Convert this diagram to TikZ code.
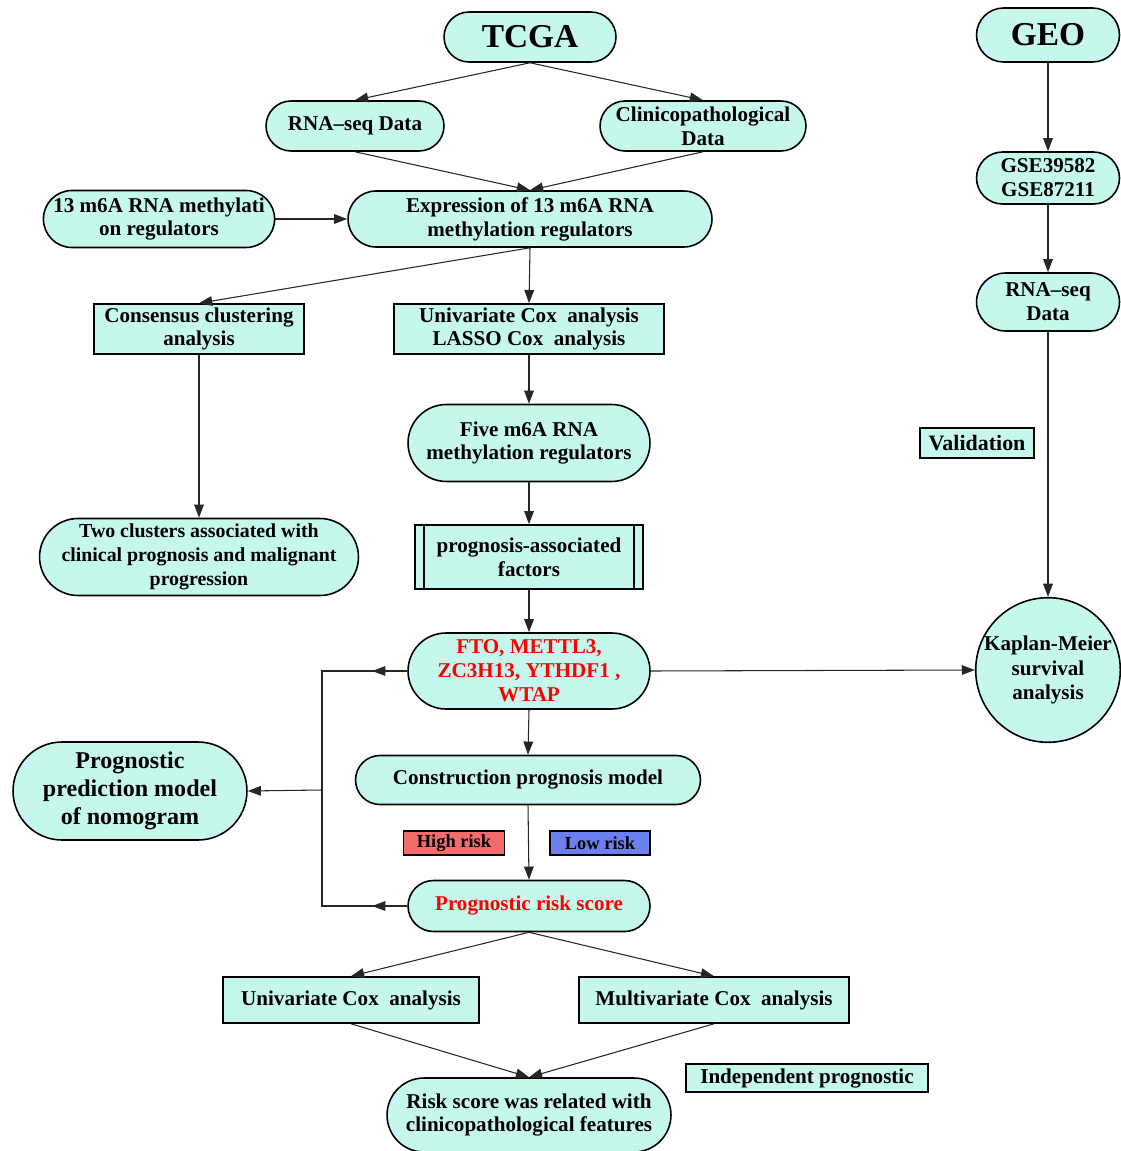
\documentclass[tikz,border=0pt]{standalone}
\usepackage{fontspec}
\setmainfont{Liberation Serif}
\usetikzlibrary{shapes.misc,shapes.geometric,arrows.meta}
\definecolor{boxfill}{RGB}{197,247,237}
\definecolor{hirisk}{RGB}{242,108,108}
\definecolor{lorisk}{RGB}{106,128,238}
\tikzset{
  term/.style={rounded rectangle, draw=black, line width=0.9pt, fill=boxfill, align=center, inner sep=0pt, font=\fontsize{12}{13.6}\selectfont\bfseries},
  proc/.style={rectangle, draw=black, line width=0.9pt, fill=boxfill, align=center, inner sep=0pt, font=\fontsize{12}{13.6}\selectfont\bfseries},
  conn/.style={draw=black!85, line width=0.6pt},
  arr/.style={conn, -{Triangle[length=7.5pt,width=5.5pt]}}
}
\begin{document}
\begin{tikzpicture}[x=0.02cm,y=-0.02cm]
\useasboundingbox (0,0) rectangle (1120,1151);
% TCGA branch
\node[term, minimum width=3.44cm, minimum height=1cm, font=\fontsize{19}{21}\selectfont\bfseries] (tcga) at (530,37) {TCGA};
\node[term, minimum width=3.56cm, minimum height=1cm] (rnaseq) at (355,126) {RNA--seq Data};
\node[term, minimum width=4.12cm, minimum height=1cm] (clin) at (703,126) {Clinicopathological\\Data};
\node[term, minimum width=4.56cm, minimum height=1.14cm] (regs) at (159,219) {13 m6A RNA methylati\\on regulators};
\node[term, minimum width=7.28cm, minimum height=1.12cm] (expr) at (530,219) {Expression of 13 m6A RNA\\methylation regulators};
\node[proc, minimum width=4.2cm, minimum height=1cm] (cons) at (199,329) {Consensus clustering\\analysis};
\node[proc, minimum width=5.4cm, minimum height=1cm] (lasso) at (529,329) {Univariate Cox~ analysis\\LASSO Cox~ analysis};
\node[term, minimum width=4.84cm, minimum height=1.54cm] (five) at (529,443) {Five m6A RNA\\methylation regulators};
\node[term, minimum width=6.38cm, minimum height=1.54cm, font=\fontsize{11.3}{13.6}\selectfont\bfseries] (clust) at (199,557) {Two clusters associated with\\clinical prognosis and malignant\\progression};
\node[proc, minimum width=4.56cm, minimum height=1.28cm] (pfac) at (529,557) {prognosis-associated\\factors};
\draw[line width=0.9pt] ([xshift=0.2cm]pfac.north west) -- ([xshift=0.2cm]pfac.south west);
\draw[line width=0.9pt] ([xshift=-0.2cm]pfac.north east) -- ([xshift=-0.2cm]pfac.south east);
\node[term, minimum width=4.84cm, minimum height=1.52cm, text=red] (genes) at (529,671) {FTO, METTL3,\\ZC3H13, YTHDF1 ,\\WTAP};
\node[term, minimum width=4.68cm, minimum height=1.96cm, font=\fontsize{13.7}{15.9}\selectfont\bfseries] (nomo) at (130,791) {Prognostic\\prediction model\\of nomogram};
\node[term, minimum width=6.9cm, minimum height=0.98cm] (model) at (528,780) {Construction prognosis model};
\node[proc, fill=hirisk, minimum width=2.02cm, minimum height=0.48cm, font=\fontsize{10.5}{12}\selectfont\bfseries] (high) at (454,843) {High risk};
\node[proc, fill=lorisk, minimum width=2cm, minimum height=0.48cm, font=\fontsize{10.5}{12}\selectfont\bfseries] (low) at (600,843) {Low risk};
\node[term, minimum width=4.84cm, minimum height=1.02cm, text=red] (score) at (529,906) {Prognostic risk score};
\node[proc, minimum width=5.12cm, minimum height=0.92cm] (unicox) at (351,1000) {Univariate Cox~ analysis};
\node[proc, minimum width=5.4cm, minimum height=0.92cm] (multicox) at (714,1000) {Multivariate Cox~ analysis};
\node[proc, minimum width=4.84cm, minimum height=0.56cm] (indep) at (807,1078) {Independent prognostic};
\node[term, minimum width=5.68cm, minimum height=1.48cm] (related) at (529,1115) {Risk score was related with\\clinicopathological features};
% GEO branch
\node[term, minimum width=2.86cm, minimum height=1.08cm, font=\fontsize{19}{21}\selectfont\bfseries] (geo) at (1048,35) {GEO};
\node[term, minimum width=2.86cm, minimum height=1.04cm] (gse) at (1048,178) {GSE39582\\GSE87211};
\node[term, minimum width=2.86cm, minimum height=1.16cm] (rnaseq2) at (1048,302) {RNA--seq\\Data};
\node[proc, minimum width=2.28cm, minimum height=0.6cm, font=\fontsize{12.5}{14}\selectfont\bfseries] (valid) at (977,443) {Validation};
\node[circle, draw=black, line width=0.9pt, fill=boxfill, align=center, inner sep=0pt, minimum size=2.88cm, font=\fontsize{12}{14}\selectfont\bfseries] (km) at (1048,670) {Kaplan-Meier\\survival\\analysis};
% connectors
\draw[arr] (tcga.south) -- (rnaseq.north);
\draw[arr] (tcga.south) -- (clin.north);
\draw[arr] (rnaseq.south) -- (expr.north);
\draw[arr] (clin.south) -- (expr.north);
\draw[arr] (regs.east) -- (expr.west);
\draw[arr] (expr.south) -- (cons.north);
\draw[arr] (expr.south) -- (lasso.north);
\draw[arr] (cons.south) -- (clust.north);
\draw[arr] (lasso.south) -- (five.north);
\draw[arr] (five.south) -- (pfac.north);
\draw[arr] (pfac.south) -- (genes.north);
\draw[arr] (genes.south) -- (model.north);
\draw[arr] (model.south) -- (score.north);
\draw[arr] (genes.east) -- (km.west);
\draw[arr] (score.south) -- (unicox.north);
\draw[arr] (score.south) -- (multicox.north);
\draw[arr] (unicox.south) -- (related.north);
\draw[arr] (multicox.south) -- (related.north);
\draw[arr] (geo.south) -- (gse.north);
\draw[arr] (gse.south) -- (rnaseq2.north);
\draw[arr] (rnaseq2.south) -- (km.north);
% feedback bracket
\coordinate (jtop) at (322,671);
\coordinate (jbot) at (322,906);
\coordinate (jmid) at (322,790);
\draw[conn] (genes.west) -- (jtop) -- (jbot) -- (score.west);
\draw[arr] (genes.west) -- +(-35,0);
\draw[arr] (score.west) -- +(-35,0);
\draw[arr] (jmid) -- (nomo.east);
\end{tikzpicture}
\end{document}
